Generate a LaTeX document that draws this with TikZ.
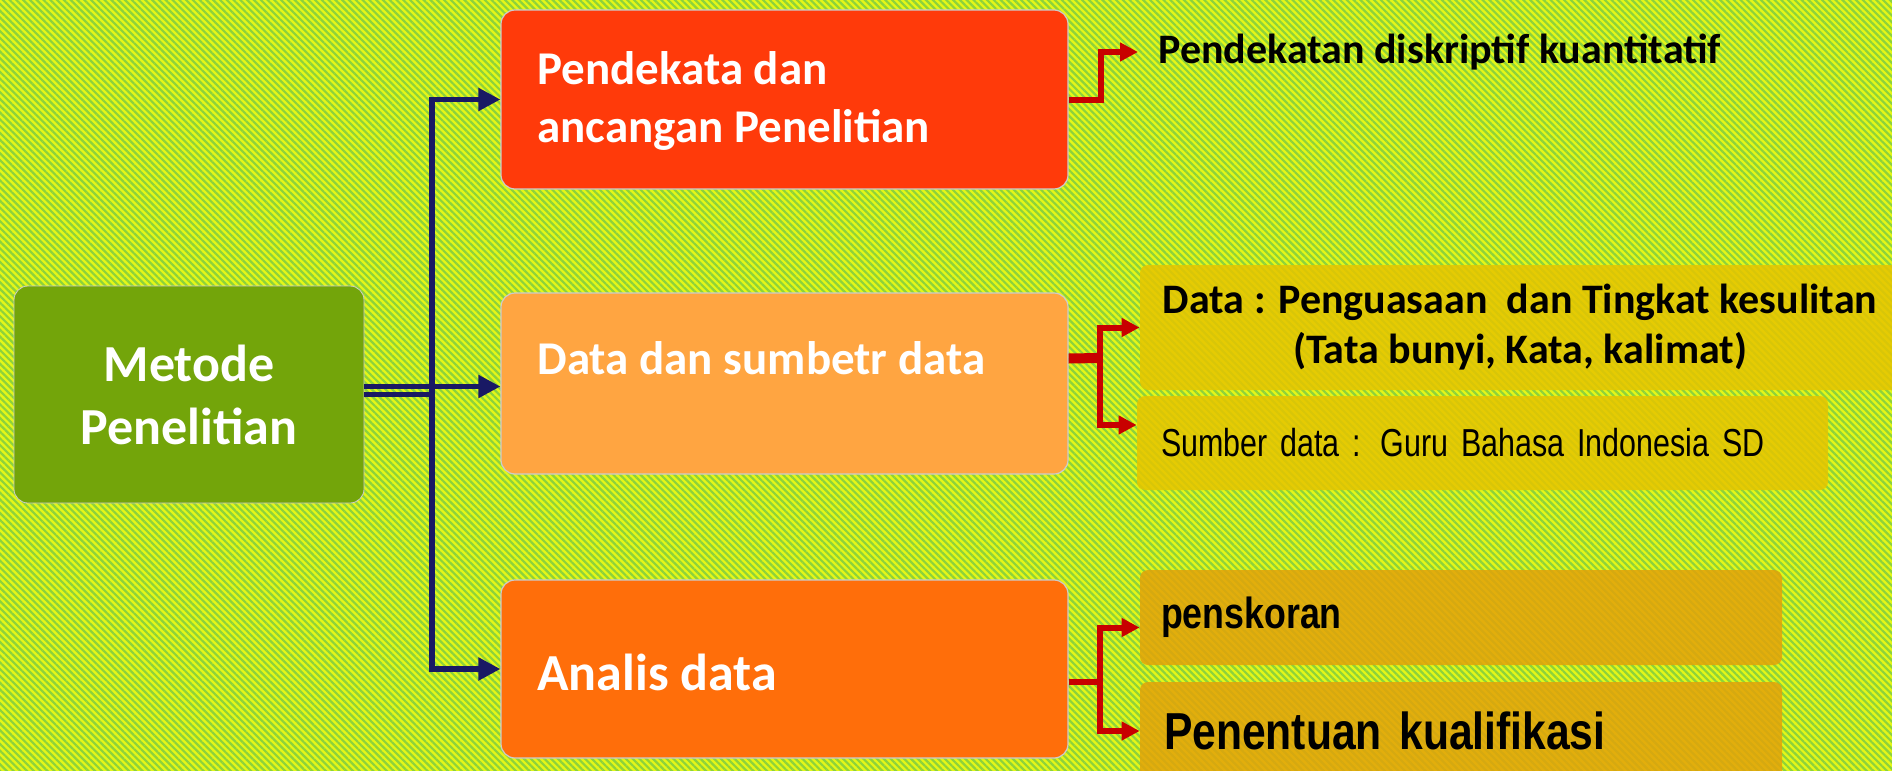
\documentclass[tikz,border=0pt]{standalone}
\usepackage{fontspec}
\setmainfont{Carlito}
\newfontfamily\narrowfont[FakeStretch=0.82]{Liberation Sans}
\newfontfamily\condfont[FakeStretch=0.78]{Liberation Sans}
\usetikzlibrary{arrows.meta}
\usetikzlibrary{patterns.meta}
\definecolor{bgyellow}{RGB}{228,246,24}
\definecolor{bggreen}{RGB}{140,210,60}
\definecolor{metgreen}{RGB}{115,165,10}
\definecolor{pendred}{RGB}{255,58,10}
\definecolor{datorange}{RGB}{255,165,65}
\definecolor{anlorange}{RGB}{255,110,10}
\definecolor{goldbox}{RGB}{230,196,0}
\definecolor{ambbox}{RGB}{226,162,10}
\definecolor{navy}{RGB}{25,25,100}
\definecolor{darkred}{RGB}{200,0,0}
\tikzset{%
    bigbox/.style={rounded corners=7pt,minimum width=283.5pt,minimum height=89.5pt,draw=black!20,line width=0.6pt},
    boxtxt/.style={anchor=west,inner sep=0pt,align=left,text=white,font={\bfseries\fontsize{23.5}{29}\selectfont}},
    subbox/.style={rounded corners=4pt,fill opacity=0.85,text opacity=1,inner ysep=0pt},
    bluearrow/.style={navy,line width=2.6pt,-{Triangle[length=11pt,width=11pt]}},
    redline/.style={darkred,line width=3pt},
    redarrow/.style={redline,-{Triangle[length=9pt,width=9pt]}}
}
\begin{document}
\begin{tikzpicture}[x=0.5pt,y=-0.5pt]
        \useasboundingbox (0,0) rectangle (1892,771);
        \fill[bgyellow] (0,0) rectangle (1892,771);
        \fill[pattern={Lines[angle=-45,distance=2.4pt,line width=1.1pt]},pattern color=bggreen] (0,0) rectangle (1892,771);

        % main boxes
        \node[rounded corners=7pt,fill=metgreen,draw=black!20,minimum width=175pt,minimum height=108.5pt,
              align=center,text=white,font={\bfseries\fontsize{26}{31.5}\selectfont}] (met) at (189,394.5) {Metode\\Penelitian};
        \node[bigbox,fill=pendred] (pend) at (784.5,99.5) {};
        \node[bigbox,fill=datorange,minimum height=90.5pt] (dat) at (784.5,383.5) {};
        \node[bigbox,fill=anlorange,minimum height=89pt] (anl) at (784.5,669) {};
        \node[boxtxt] (pendtxt) at (537,101) {Pendekata dan\\ancangan Penelitian};
        \node[boxtxt] (dattxt) at (537,358) {Data dan sumbetr data};
        \node[boxtxt,font={\bfseries\fontsize{26}{31}\selectfont}] (anltxt) at (537,672) {Analis data};

        % right hand side
        \node[anchor=west,inner xsep=10pt,font={\bfseries\fontsize{21}{25}\selectfont}] (pk) at (1138,52) {Pendekatan diskriptif kuantitatif};
        \node[subbox,fill=goldbox,minimum width=380pt,minimum height=62.5pt,align=center,
              font={\bfseries\fontsize{21}{25}\selectfont}] (datkey) at (1520,327.5) {Data : Penguasaan\ \ dan Tingkat kesulitan\\(Tata bunyi, Kata, kalimat)};
        \node[subbox,fill=goldbox,minimum height=47pt,inner xsep=12pt,text width=321.5pt,align=left,
              font={\condfont\fontsize{19.5}{23}\selectfont}] (sumber) at (1482.5,443) {Sumber data : Guru Bahasa Indonesia SD};
        \node[subbox,fill=ambbox,minimum height=47.5pt,inner xsep=10.5pt,text width=300pt,align=left,
              font={\narrowfont\bfseries\fontsize{21.8}{25}\selectfont}] (skor) at (1461,617.5) {penskoran};
        \node[subbox,fill=ambbox,minimum height=49pt,inner xsep=12pt,text width=297pt,align=left,
              font={\narrowfont\bfseries\fontsize{26}{30}\selectfont}] (kual) at (1461,731) {Penentuan kualifikasi};

        % blue connectors
        \coordinate (trunk) at (432,394.5);
        \draw[bluearrow] (met.east) -- (trunk) |- (pend.west);
        \draw[bluearrow] (met.east) -- (trunk) |- (anl.west);
        \draw[bluearrow] ([yshift=4pt]met.east) -- ([yshift=4pt]met.east -| dat.west);

        % red connectors
        \draw[redarrow] (pend.east) -- ++(16pt,0) |- (pk.west);
        \coordinate (datsplit) at (1100,358);
        \draw[redline,line width=5pt] ([yshift=12.5pt]dat.east) -- (datsplit);
        \draw[redarrow] (datsplit) |- (datkey.west);
        \draw[redarrow] (datsplit) |- ([yshift=9pt]sumber.west);
        \coordinate (anlsplit) at (1100,682);
        \draw[redline] ([yshift=-6.5pt]anl.east) -- (anlsplit);
        \draw[redarrow] (anlsplit) |- ([yshift=-5pt]skor.west);
        \draw[redarrow] (anlsplit) |- (kual.west);
    \end{tikzpicture}
\end{document}
